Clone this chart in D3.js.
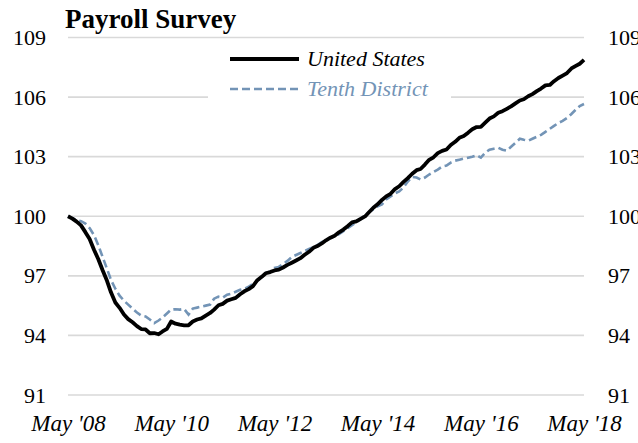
<!DOCTYPE html>
<html>
<head>
<meta charset="utf-8">
<script src="https://cdn.jsdelivr.net/npm/d3@7"></script>
<style>
  body { margin: 0; background: #fff; }
  svg { display: block; }
  text { font-family: "Liberation Serif", "DejaVu Serif", serif; }
</style>
</head>
<body>
<svg id="chart"></svg>
<script>
// Monthly payroll employment index, May 2008 = 100
const startMonth = new Date(2008, 4, 1)

const unitedStates = [
  100.00, 99.88, 99.73, 99.54, 99.20, 98.85, 98.31, 97.85,
  97.28, 96.75, 96.17, 95.66, 95.39, 95.05, 94.82, 94.66, 94.47, 94.32, 94.30, 94.11,
  94.12, 94.06, 94.20, 94.33, 94.70, 94.59, 94.54, 94.51, 94.51, 94.70, 94.80, 94.86,
  95.00, 95.13, 95.30, 95.52, 95.59, 95.75, 95.82, 95.89, 96.07, 96.22, 96.33, 96.48,
  96.78, 96.95, 97.13, 97.19, 97.27, 97.31, 97.42, 97.55, 97.66, 97.77, 97.89, 98.06,
  98.21, 98.41, 98.50, 98.63, 98.79, 98.92, 99.02, 99.19, 99.33, 99.50, 99.69, 99.74,
  99.87, 99.99, 100.20, 100.43, 100.60, 100.82, 101.00, 101.13, 101.37, 101.51, 101.73, 101.92,
  102.14, 102.32, 102.38, 102.60, 102.84, 102.97, 103.18, 103.29, 103.36, 103.59, 103.75, 103.95,
  104.04, 104.21, 104.38, 104.49, 104.50, 104.71, 104.92, 105.03, 105.21, 105.29, 105.41, 105.53,
  105.68, 105.83, 105.89, 106.04, 106.15, 106.30, 106.43, 106.59, 106.61, 106.80, 106.96, 107.08,
  107.21, 107.44, 107.56, 107.68, 107.87
]

const tenthDistrict = [
  100.00, 99.90, 99.82, 99.75, 99.63, 99.40, 99.05, 98.55,
  97.95, 97.35, 96.80, 96.35, 96.00, 95.75, 95.55, 95.35, 95.15, 95.00, 94.95, 94.80,
  94.62, 94.75, 94.90, 95.10, 95.30, 95.32, 95.30, 95.33, 95.05, 95.35, 95.40, 95.45,
  95.50, 95.55, 95.85, 95.95, 95.90, 96.05, 96.10, 96.20, 96.30, 96.35, 96.45, 96.60,
  96.75, 96.95, 97.15, 97.20, 97.40, 97.45, 97.60, 97.75, 97.95, 98.05, 98.15, 98.25,
  98.35, 98.45, 98.55, 98.70, 98.80, 98.90, 99.00, 99.10, 99.25, 99.40, 99.55, 99.70,
  99.85, 100.05, 100.20, 100.35, 100.50, 100.60, 100.85, 101.00, 101.15, 101.25, 101.45, 101.75,
  101.98, 101.95, 101.85, 101.95, 102.10, 102.23, 102.35, 102.50, 102.55, 102.70, 102.80, 102.85,
  102.90, 102.95, 103.00, 103.07, 102.95, 103.20, 103.35, 103.40, 103.45, 103.35, 103.30, 103.50,
  103.70, 103.90, 103.85, 103.80, 103.90, 104.00, 104.10, 104.25, 104.40, 104.55, 104.70, 104.80,
  104.95, 105.15, 105.35, 105.55, 105.65
]

const yTicks = [91, 94, 97, 100, 103, 106, 109]
const xTickYears = [2008, 2010, 2012, 2014, 2016, 2018]
const xTickLabels = ["May '08", "May '10", "May '12", "May '14", "May '16", "May '18"]

const seriesNames = ["United States", "Tenth District"]
const seriesColors = ["#000000", "#7394b6"]

const width = 638
const height = 443
const margin = {top: 37.5, right: 54, bottom: 48, left: 68}

const svg = d3.select("#chart")
  .attr("width", width)
  .attr("height", height)

const months = unitedStates.map((d, i) => d3.timeMonth.offset(startMonth, i))

const x = d3.scaleTime()
  .domain([months[0], months[months.length - 1]])
  .range([margin.left, width - margin.right])

const y = d3.scaleLinear()
  .domain([91, 109])
  .range([height - margin.bottom, margin.top])

// gridlines
svg.append("g")
  .selectAll("line")
  .data(yTicks)
  .join("line")
    .attr("x1", x.range()[0])
    .attr("x2", x.range()[1])
    .attr("y1", d => y(d))
    .attr("y2", d => y(d))
    .attr("stroke", "#d9d9d9")
    .attr("stroke-width", 1.6)

// left and right axes (labels only)
const leftAxis = svg.append("g")
  .attr("transform", "translate(" + (margin.left - 22) + ",0)")
  .call(d3.axisLeft(y).tickValues(yTicks).tickSize(0).tickPadding(0))
leftAxis.select(".domain").remove()

const rightAxis = svg.append("g")
  .attr("transform", "translate(" + (width - margin.right + 24) + ",0)")
  .call(d3.axisRight(y).tickValues(yTicks).tickSize(0).tickPadding(0))
rightAxis.select(".domain").remove()

svg.selectAll(".tick text")
  .attr("font-size", 22)
  .attr("fill", "#000")

// x axis labels
const xTicks = xTickYears.map(yr => new Date(yr, 4, 1))
const bottomAxis = svg.append("g")
  .attr("transform", "translate(0," + (height - margin.bottom + 20) + ")")
  .call(d3.axisBottom(x).tickValues(xTicks).tickSize(0).tickPadding(0)
    .tickFormat((d, i) => xTickLabels[i]))
bottomAxis.select(".domain").remove()
bottomAxis.selectAll("text")
  .attr("font-style", "italic")
  .attr("font-size", 23)
  .attr("fill", "#000")

// lines
const line = d3.line()
  .x((d, i) => x(months[i]))
  .y(d => y(d))

svg.append("path")
  .datum(tenthDistrict)
  .attr("fill", "none")
  .attr("stroke", seriesColors[1])
  .attr("stroke-width", 2.6)
  .attr("stroke-dasharray", "8,4")
  .attr("d", line)

svg.append("path")
  .datum(unitedStates)
  .attr("fill", "none")
  .attr("stroke", seriesColors[0])
  .attr("stroke-width", 3.8)
  .attr("stroke-linejoin", "round")
  .attr("d", line)

// legend
const legend = svg.append("g").attr("transform", "translate(208,43)")
legend.append("rect")
  .attr("width", 243)
  .attr("height", 62)
  .attr("fill", "#fff")

seriesNames.forEach((name, i) => {
  const row = legend.append("g").attr("transform", "translate(0," + (16 + i * 30) + ")")
  row.append("line")
    .attr("x1", 22).attr("x2", 91)
    .attr("stroke", seriesColors[i])
    .attr("stroke-width", i === 0 ? 3.8 : 2.6)
    .attr("stroke-dasharray", i === 0 ? null : "8,4")
  row.append("text")
    .attr("x", 99)
    .attr("y", 7)
    .attr("font-style", "italic")
    .attr("font-size", 22)
    .attr("fill", seriesColors[i])
    .text(name)
})

// title
svg.append("text")
  .attr("x", 65)
  .attr("y", 28)
  .attr("font-weight", "bold")
  .attr("font-size", 27)
  .attr("fill", "#000")
  .text("Payroll Survey")
</script>
</body>
</html>
